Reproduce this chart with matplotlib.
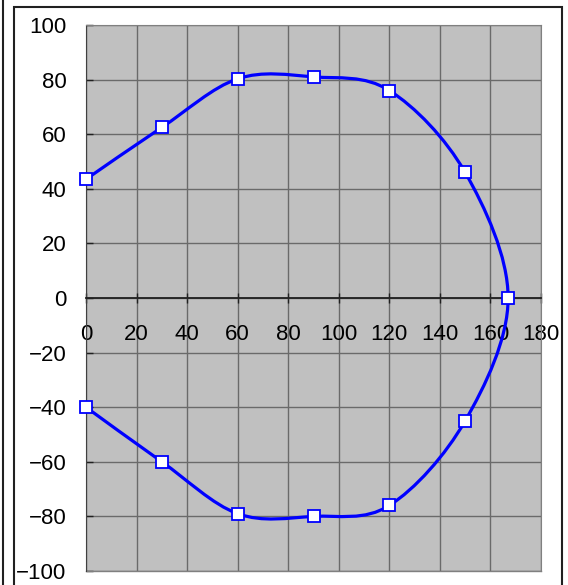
import numpy as np
import matplotlib.pyplot as plt
from matplotlib.path import Path
from matplotlib.patches import PathPatch, Rectangle
from matplotlib.lines import Line2D

# data (top half then bottom half, one continuous line)
x_vals = [0, 30, 60, 90, 120, 150, 167, 150, 120, 90, 60, 30, 0]
y_vals = [43.5, 62.5, 80.3, 81, 76, 46, 0, -45, -76, -80, -79, -60, -40]

x_ticks = [0, 20, 40, 60, 80, 100, 120, 140, 160, 180]
y_ticks = [-100, -80, -60, -40, -20, 0, 20, 40, 60, 80, 100]

plt.rcParams['font.family'] = ['Liberation Sans', 'DejaVu Sans']

fig = plt.figure(figsize=(5.68, 5.85), dpi=100)
ax = fig.add_axes([86/568, 14/585, 455/568, 546/585])
ax.set_facecolor('#c0c0c0')

# excel-like smoothed line: cubic bezier through the points
pts = np.column_stack([x_vals, y_vals]).astype(float)
n = len(pts)
verts = [pts[0]]
codes = [Path.MOVETO]
for i in range(n - 1):
    p0 = pts[i - 1] if i > 0 else pts[i]
    p1 = pts[i]
    p2 = pts[i + 1]
    p3 = pts[i + 2] if i + 2 < n else pts[i + 1]
    verts += [p1 + (p2 - p0) / 6, p2 - (p3 - p1) / 6, p2]
    codes += [Path.CURVE4] * 3
ax.add_patch(PathPatch(Path(verts, codes), fill=False, edgecolor='#0000ff', lw=2.3, zorder=3))

ax.plot(x_vals, y_vals, ls='none', marker='s', ms=9, mfc='white', mec='#0000ff', mew=1.3,
        zorder=4, clip_on=False)

ax.set_xlim(0, 180)
ax.set_ylim(-100, 100)
ax.set_xticks(x_ticks)
ax.set_yticks(y_ticks)
ax.set_yticklabels([str(v).replace('-', '\u2212') for v in y_ticks])
ax.grid(True, color='#6a6a6a', lw=1.0)
ax.set_axisbelow(True)

for s in ['top', 'right']:
    ax.spines[s].set_color('#808080')
ax.spines['left'].set_color('#404040')

# x axis crosses at y = 0
ax.spines['bottom'].set_position(('data', 0))
ax.spines['bottom'].set_color('#202020')
ax.spines['bottom'].set_linewidth(1.3)
ax.tick_params(axis='x', direction='inout', length=7, width=1, color='#202020',
               pad=15, labelsize=16)
ax.tick_params(axis='y', direction='in', length=5, width=1, color='#202020',
               pad=14, labelsize=16)

# gray bottom edge of the plot area
ax.add_line(Line2D([0, 1], [0, 0], transform=ax.transAxes, color='#808080', lw=1, clip_on=False))

# chart frame
fig.add_artist(Rectangle((14/568, -0.05), (562-14)/568, (585-7)/585 + 0.05,
                         transform=fig.transFigure, fill=False, ec='#202020', lw=1.5))
fig.add_artist(Line2D([2.5/568, 2.5/568], [0, 1], transform=fig.transFigure, color='#202020', lw=1.5))

fig.savefig('out.png', dpi=100)
